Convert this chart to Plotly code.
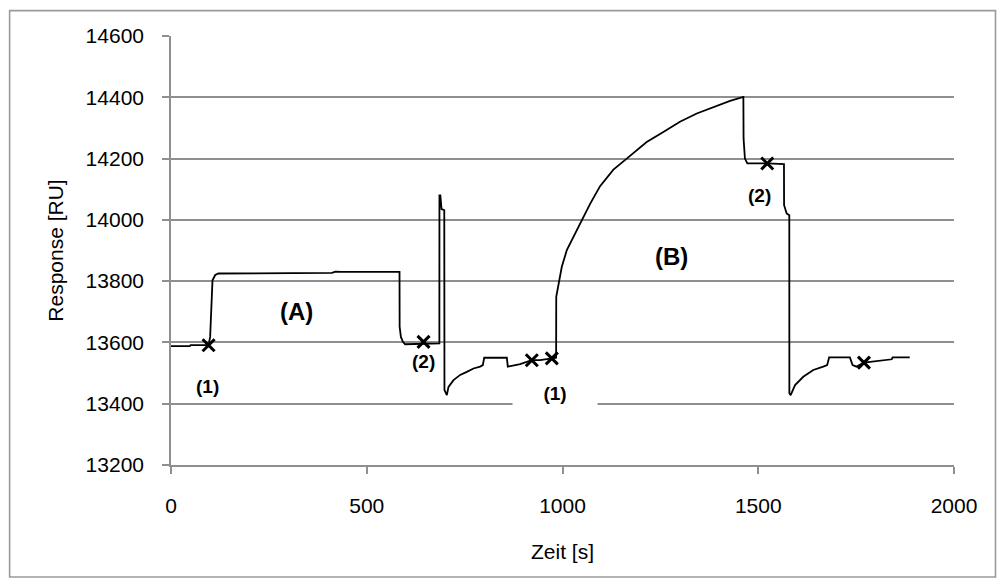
import plotly.graph_objects as go

# Sensorgram trace (time in s, response in RU)
time_s = [0, 48, 50, 96, 100, 103, 106, 113, 121, 411, 420, 435, 583.7, 584, 587.2, 592.3, 598,
          685.5, 685.7, 688, 689, 691, 698, 698.5, 704.6, 708.8, 721.6, 738.6, 755.6, 772.6,
          789.6, 796.5, 800, 857.8, 860.3, 870.6, 891.8, 921.6, 942.8, 972.7, 983.7, 984,
          989.6, 998.2, 1011, 1036.5, 1049, 1070.5, 1096, 1130, 1164, 1215, 1257.6, 1300,
          1343, 1385, 1428, 1462, 1462.5, 1466, 1472, 1523, 1565.7, 1566, 1572.6, 1579.3,
          1579.5, 1582.8, 1594, 1615, 1640.5, 1666, 1676, 1681, 1734, 1741, 1751, 1770,
          1802, 1841, 1843, 1887]
response_ru = [13588, 13588, 13591, 13591, 13618, 13700, 13803, 13820, 13825, 13827, 13831, 13830, 13830, 13651, 13618, 13602, 13594,
               13597, 14080, 14080, 14053, 14035, 14032, 13445, 13428, 13455, 13477, 13494, 13504, 13515,
               13521, 13526, 13550, 13550, 13521, 13523, 13529, 13542, 13542, 13548, 13550, 13749,
               13793, 13847, 13901, 13966, 14000, 14052, 14110, 14164, 14200, 14254, 14287, 14320,
               14347, 14368, 14388, 14401, 14265, 14200, 14184, 14184, 14182, 14048, 14021, 14015,
               13434, 13428, 13461, 13488, 13510, 13521, 13526, 13551, 13551, 13526, 13521, 13534,
               13540, 13545, 13551, 13551]

# Marked points (x)
mark_t = [96, 645, 921.6, 972.7, 1523, 1770]
mark_r = [13591, 13602, 13542, 13548, 14184, 13534]

# Labels
label_text = ["(1)", "(2)", "(A)", "(1)", "(B)", "(2)"]
label_t = [92, 645, 321.7, 981, 1279, 1504]
label_r = [13455, 13537, 13700, 13434, 13879, 14080]
label_size = [19, 19, 24, 19, 24, 19]
label_bg = [False, False, False, True, False, False]

x_ticks = [0, 500, 1000, 1500, 2000]
y_ticks = [13200, 13400, 13600, 13800, 14000, 14200, 14400, 14600]

FONT = "Liberation Sans, Arial, sans-serif"
GRID = "#8f8f8f"

fig = go.Figure()
fig.add_trace(go.Scatter(x=time_s, y=response_ru, mode="lines",
                         line=dict(color="black", width=1.8), hoverinfo="skip"))
fig.add_trace(go.Scatter(x=mark_t, y=mark_r, mode="markers",
                         marker=dict(symbol="x-thin", size=12, color="black",
                                     line=dict(color="black", width=3))))

for txt, t, r, s, bg in zip(label_text, label_t, label_r, label_size, label_bg):
    kw = dict(x=t, y=r, xref="x", yref="y", text="<b>" + txt + "</b>", showarrow=False,
              font=dict(family=FONT, size=s, color="black"))
    if bg:
        kw.update(bgcolor="white", width=84, height=28, borderpad=0)
    fig.add_annotation(**kw)

fig.add_shape(type="rect", xref="paper", yref="paper", x0=-0.2061, x1=1.053, y0=-0.2609, y1=1.0592,
              line=dict(color="#9a9a9a", width=1.6), fillcolor="rgba(0,0,0,0)", layer="below")

fig.update_layout(
    width=997, height=579,
    margin=dict(l=163, r=51, t=28, b=122),
    paper_bgcolor="white", plot_bgcolor="white",
    showlegend=False,
    font=dict(family=FONT, size=21, color="black"),
)
fig.update_xaxes(range=[0, 2000], tickvals=x_ticks, ticktext=[str(v) for v in x_ticks],
                 showgrid=False, zeroline=False, showline=True, linecolor=GRID, linewidth=1.6,
                 ticks="outside", ticklen=7, tickcolor=GRID, tickwidth=1.6,
                 tickfont=dict(family=FONT, size=21, color="black"), ticklabelstandoff=14,
                 title=dict(text="Zeit [s]", font=dict(family=FONT, size=21, color="black"), standoff=28))
fig.update_yaxes(range=[13200, 14600], tickvals=y_ticks, ticktext=[str(v) for v in y_ticks],
                 showgrid=True, gridcolor=GRID, gridwidth=1.6, zeroline=False,
                 showline=True, linecolor=GRID, linewidth=1.6,
                 ticks="outside", ticklen=7, tickcolor=GRID, tickwidth=1.6,
                 tickfont=dict(family=FONT, size=21, color="black"), ticklabelstandoff=14,
                 title=dict(text="Response [RU]", font=dict(family=FONT, size=21, color="black"), standoff=16))

fig.write_html("out.html")
